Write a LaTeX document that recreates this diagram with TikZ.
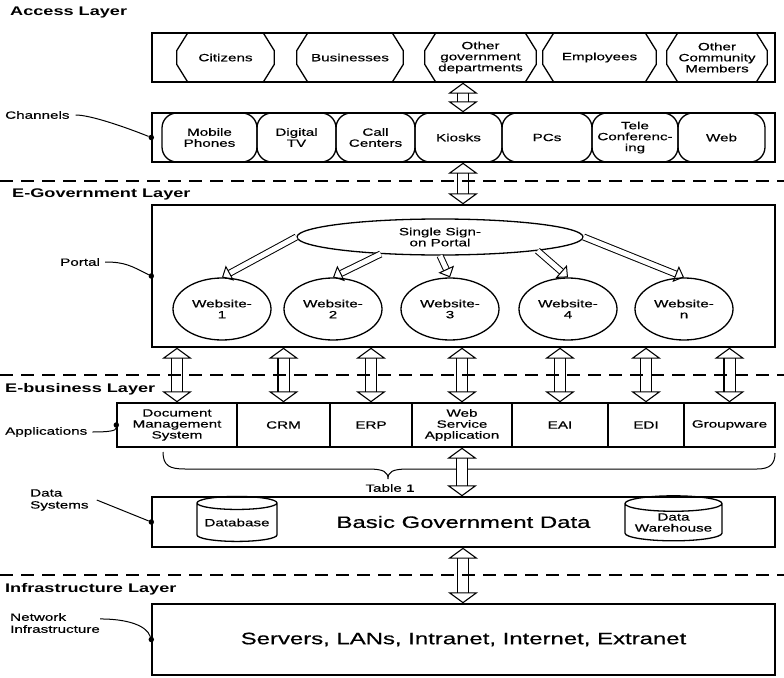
\documentclass[tikz,border=0pt]{standalone}
\usepackage{fontspec}
\setmainfont{Liberation Sans}[FakeStretch=1.45, UprightFeatures={FakeBold=0.5}]
\usetikzlibrary{shapes.geometric,arrows.meta}

\tikzset{
  lbl/.style={font=\fontsize{10.5}{11}\selectfont, align=center, inner sep=0pt},
  big/.style={font=\fontsize{16.5}{18}\selectfont},
  layertitle/.style={font=\bfseries\fontsize{12.5}{14}\selectfont, anchor=west, inner sep=0pt},
  side/.style={font=\fontsize{10.5}{12}\selectfont, align=left, anchor=west, inner sep=0pt},
  panel/.style={draw, line width=1.4pt, inner sep=0pt},
  actor/.style={lbl, minimum height=49pt},
  chan/.style={lbl, draw, line width=1.3pt, rounded corners=15pt, minimum height=49pt},
  site/.style={lbl, draw, line width=1.3pt, ellipse, minimum width=98pt, minimum height=62pt},
  app/.style={lbl, draw, line width=1.4pt, minimum height=44pt},
  store/.style={lbl, draw, line width=1.3pt, cylinder, shape border rotate=90, aspect=0.2},
  layerline/.style={line width=2.5pt, dash pattern=on 13pt off 8pt},
  bigarrow/.style={double distance=10pt, line width=1.1pt,
    {Triangle[open,length=11pt,width=30pt,line width=1.1pt]}-{Triangle[open,length=11pt,width=30pt,line width=1.1pt]}},
  thinarrow/.style={double distance=5pt, line width=1pt,
    -{Triangle[open,length=9pt,width=17pt,line width=1pt]}},
  pin/.style={line width=1pt},
  dot/.style={circle, fill, inner sep=0pt, minimum size=5.5pt}
}

\begin{document}
\begin{tikzpicture}[x=1pt,y=-1pt]
  \useasboundingbox (0,0) rectangle (784,677);
  \coordinate (axis) at (463,0);

  % layer titles
  \node[layertitle] (acc) at (10,12) {Access Layer};
  \node[layertitle] (egov) at (12,194) {E-Government Layer};
  \node[layertitle] (ebus) at (5,389) {E-business Layer};
  \node[layertitle] (infra) at (5,589) {Infrastructure Layer};

  % access layer
  \node[panel, minimum width=623pt, minimum height=49pt] (accbox) at (463.5,57.5) {};
  \node[actor, minimum width=97pt] (cit) at (225.5,57.5) {Citizens};
  \node[actor, minimum width=106pt] (bus) at (350,57.5) {Businesses};
  \node[actor, minimum width=111pt] (ogd) at (480.5,57.5) {Other\\government\\departments};
  \node[actor, minimum width=113pt] (emp) at (599.5,57.5) {Employees};
  \node[actor, minimum width=100pt] (ocm) at (717,57.5) {Other\\Community\\Members};
  \foreach \n in {cit,bus,ogd,emp,ocm}
    \draw[line width=1.3pt] ([xshift=11pt]\n.north west) -- ([xshift=-11pt]\n.north east)
      -- ([yshift=7pt]\n.east) -- ([yshift=-7pt]\n.east) -- ([xshift=-11pt]\n.south east)
      -- ([xshift=11pt]\n.south west) -- ([yshift=-7pt]\n.west) -- ([yshift=7pt]\n.west) -- cycle;

  % channels
  \node[panel, minimum width=623pt, minimum height=49pt] (chanbox) at (463.5,137.5) {};
  \node[chan, minimum width=95pt] (mob) at (209.5,137.5) {Mobile\\Phones};
  \node[chan, minimum width=79pt] (dtv) at (296.5,137.5) {Digital\\TV};
  \node[chan, minimum width=79pt] (cc) at (375.5,137.5) {Call\\Centers};
  \node[chan, minimum width=87pt] (kio) at (458.5,137.5) {Kiosks};
  \node[chan, minimum width=90pt] (pcs) at (547,137.5) {PCs};
  \node[chan, minimum width=86pt] (tele) at (635,137.5) {Tele\\Conferenc-\\ing};
  \node[chan, minimum width=87pt] (web) at (721.5,137.5) {Web};

  % portal
  \node[panel, minimum width=623pt, minimum height=142pt] (portal) at (463.5,276) {};
  \node[lbl, draw, line width=1.3pt, ellipse, minimum width=286pt, minimum height=36pt] (sso) at (440,237) {Single Sign-\\on Portal};
  \node[site] (w1) at (222,309) {Website-\\1};
  \node[site] (w2) at (333,309) {Website-\\2};
  \node[site] (w3) at (450,309) {Website-\\3};
  \node[site] (w4) at (568,309) {Website-\\4};
  \node[site] (wn) at (684,309) {Website-\\n};
  \draw[thinarrow] (sso.west) -- (w1.north);
  \draw[thinarrow] (sso.196) -- (w2.north);
  \draw[thinarrow] (sso.south) -- (w3.north);
  \draw[thinarrow] (sso.352) -- (w4.north);
  \draw[thinarrow] (sso.east) -- (wn.north);

  % applications
  \node[app, minimum width=120pt] (doc) at (177,425) {Document\\Management\\System};
  \node[app, minimum width=93pt] (crm) at (283.5,425) {CRM};
  \node[app, minimum width=82pt] (erp) at (371,425) {ERP};
  \node[app, minimum width=100pt] (wsa) at (462,425) {Web\\Service\\Application};
  \node[app, minimum width=96pt] (eai) at (560,425) {EAI};
  \node[app, minimum width=76pt] (edi) at (646,425) {EDI};
  \node[app, minimum width=91pt] (grp) at (729.5,425) {Groupware};
  \draw[pin] (163,452) .. controls (163,466) and (170,469) .. (185,469) -- (368,469)
    .. controls (384,469) and (388,472) .. (388,479)
    .. controls (388,472) and (392,469) .. (408,469) -- (757,469)
    .. controls (770,469) and (775,464) .. (775,453);
  \node[lbl] (tab) at (390,488) {Table 1};

  % data systems
  \node[panel, big, minimum width=623pt, minimum height=50pt] (data) at (463.5,522) {Basic Government Data};
  \node[store, minimum width=80pt, minimum height=45pt] (db) at (237,522.5) {Database};
  \node[store, minimum width=97pt, minimum height=45pt] (dw) at (673.5,522.5) {Data\\Warehouse};

  % infrastructure
  \node[panel, big, minimum width=623pt, minimum height=71pt] (net) at (463.5,639.5) {Servers, LANs, Intranet, Internet, Extranet};

  % arrows between layers
  \draw[bigarrow] (accbox.south -| axis) -- (chanbox.north -| axis);
  \draw[bigarrow] (chanbox.south -| axis) -- (portal.north -| axis);
  \foreach \a in {doc,crm,erp,wsa,eai,edi,grp}
    \draw[bigarrow] (portal.south -| \a) -- (\a.north);
  \draw[bigarrow] (wsa.south) -- (data.north -| wsa);
  \draw[bigarrow] (data.south -| axis) -- (net.north -| axis);

  % dashed separators
  \draw[layerline] (0,181) -- (784,181);
  \draw[layerline] (0,375) -- (784,375);
  \draw[layerline] (0,575) -- (784,575);

  % side labels
  \node[side] (chl) at (5,115) {Channels};
  \node[dot] (chd) at (chanbox.west) {};
  \draw[pin] ([xshift=6pt]chl.east) .. controls +(15,0) and +(-25,-10) .. (chd);
  \node[side] (pol) at (60,262) {Portal};
  \node[dot] (pod) at (portal.west) {};
  \draw[pin] ([xshift=5pt]pol.east) .. controls +(20,0) and +(-20,-10) .. (pod);
  \node[side] (apl) at (5,432) {Applications};
  \node[dot] (apd) at (doc.west) {};
  \draw[pin] ([xshift=5pt]apl.east) .. controls +(15,0) and +(0,6) .. (apd);
  \node[side] (dsl) at (30,500) {Data\\Systems};
  \node[dot] (dsd) at (data.west) {};
  \draw[pin] ([xshift=8pt]dsl.east) -- (dsd);
  \node[side] (nwl) at (10,623) {Network\\Infrastructure};
  \node[dot] (nwd) at (net.west) {};
  \draw[pin] ([yshift=-6pt]nwl.north east) .. controls +(25,0) and +(-5,-15) .. (nwd);
\end{tikzpicture}
\end{document}
